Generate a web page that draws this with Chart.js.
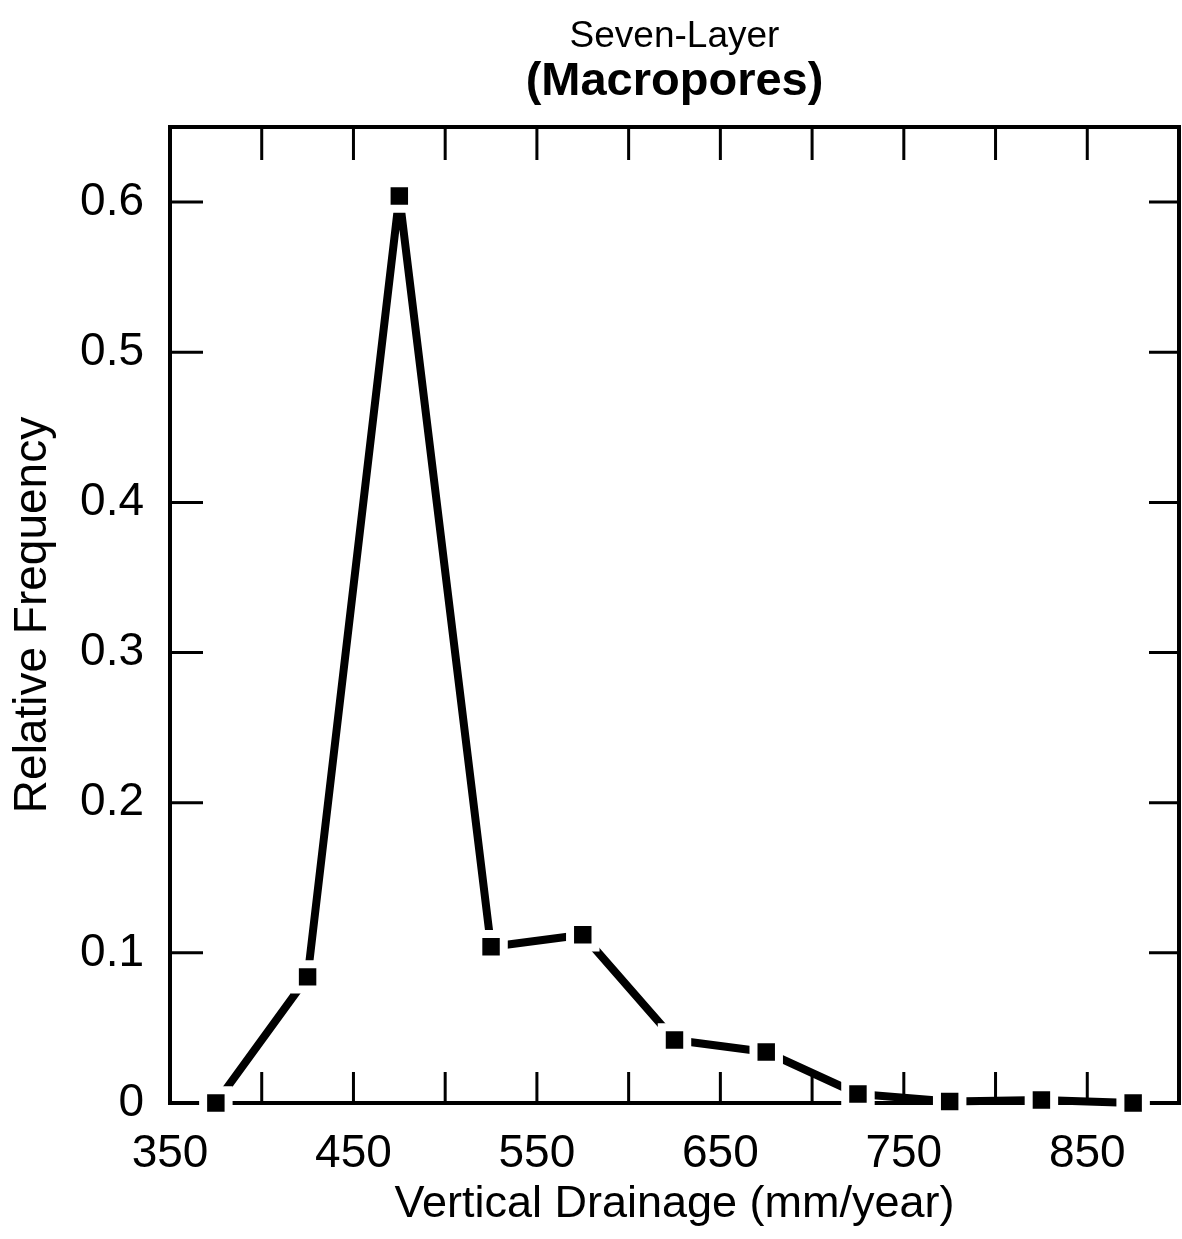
<!DOCTYPE html>
<html>
<head>
<meta charset="utf-8">
<script src="https://cdn.jsdelivr.net/npm/chart.js@4/dist/chart.umd.min.js"></script>
<style>
  html, body { margin: 0; padding: 0; background: #fff; }
  #wrap { width: 1182px; height: 1239px; position: relative; }
</style>
</head>
<body>
<div id="wrap"><canvas id="c"></canvas></div>
<script>
// ---- data ----
const drainage = [375, 425, 475, 525, 575, 625, 675, 725, 775, 825, 875];
const frequency = [0.000, 0.084, 0.604, 0.104, 0.112, 0.042, 0.034, 0.006, 0.001, 0.002, 0.000];
const xLabelValues = [350, 450, 550, 650, 750, 850];
const titleText = 'Seven-Layer';
const subtitleText = '(Macropores)';
const xTitle = 'Vertical Drainage (mm/year)';
const yTitle = 'Relative Frequency';

const FONT = "'Liberation Sans', Arial, Helvetica, sans-serif";

const points = drainage.map((x, i) => ({ x: x, y: frequency[i] }));

// frame + inward tick marks, drawn before the dataset so markers sit on top
const framePlugin = {
  id: 'frame',
  beforeDatasetsDraw(chart) {
    const { ctx, chartArea: a, scales } = chart;
    ctx.save();
    ctx.strokeStyle = '#000';
    ctx.lineCap = 'butt';
    ctx.lineWidth = 4;
    ctx.strokeRect(a.left, a.top, a.right - a.left, a.bottom - a.top);
    ctx.lineWidth = 3;
    const xs = scales.x, ys = scales.y;
    xs.ticks.forEach(t => {
      if (t.value <= xs.min || t.value >= xs.max) return;
      const px = xs.getPixelForValue(t.value);
      ctx.beginPath();
      ctx.moveTo(px, a.top); ctx.lineTo(px, a.top + 33);
      ctx.moveTo(px, a.bottom); ctx.lineTo(px, a.bottom - 31);
      ctx.stroke();
    });
    ys.ticks.forEach(t => {
      if (t.value <= ys.min || t.value >= ys.max) return;
      const py = ys.getPixelForValue(t.value);
      ctx.beginPath();
      ctx.moveTo(a.left, py); ctx.lineTo(a.left + 33, py);
      ctx.moveTo(a.right, py); ctx.lineTo(a.right - 30, py);
      ctx.stroke();
    });
    ctx.restore();
  }
};

new Chart(document.getElementById('c'), {
  type: 'line',
  data: {
    datasets: [{
      data: points,
      borderColor: '#000',
      borderWidth: 8,
      borderJoinStyle: 'bevel',
      tension: 0,
      fill: false,
      clip: false,
      pointStyle: 'rect',
      pointRadius: 18,
      pointBackgroundColor: '#000',
      pointBorderColor: '#fff',
      pointBorderWidth: 8,
      pointHoverRadius: 18
    }]
  },
  options: {
    responsive: true,
    maintainAspectRatio: false,
    animation: false,
    devicePixelRatio: 1,
    layout: { autoPadding: false, padding: { left: 0, right: 3, top: 0, bottom: 0 } },
    plugins: {
      legend: { display: false },
      tooltip: { enabled: false },
      title: {
        display: true,
        text: titleText,
        fullSize: false,
        color: '#000',
        font: { family: FONT, size: 37, weight: 'normal', lineHeight: 1.0 },
        padding: { top: 18, bottom: 0 }
      },
      subtitle: {
        display: true,
        text: subtitleText,
        fullSize: false,
        color: '#000',
        font: { family: FONT, size: 47, weight: 'bold', lineHeight: 1.0 },
        padding: { top: 4, bottom: 21 }
      }
    },
    scales: {
      x: {
        type: 'linear',
        min: 350,
        max: 900,
        afterFit(scale) {
          scale.height = 136;
          scale.paddingLeft = 0;
          scale.paddingRight = 0;
        },
        border: { display: false },
        grid: { display: false, drawTicks: false },
        ticks: {
          stepSize: 50,
          autoSkip: false,
          maxRotation: 0,
          includeBounds: false,
          padding: 24,
          color: '#000',
          font: { family: FONT, size: 46 },
          callback: (v) => xLabelValues.includes(v) ? String(v) : ''
        },
        title: {
          display: true,
          text: xTitle,
          color: '#000',
          font: { family: FONT, size: 45, lineHeight: 1.2 },
          padding: { top: 0, bottom: 7 }
        }
      },
      y: {
        type: 'linear',
        min: 0,
        max: 0.65,
        afterFit(scale) { scale.width = 170; },
        border: { display: false },
        grid: { display: false, drawTicks: false },
        ticks: {
          stepSize: 0.1,
          includeBounds: false,
          padding: 26,
          color: '#000',
          font: { family: FONT, size: 46 },
          callback: (v) => v === 0 ? '0' : v.toFixed(1)
        },
        title: {
          display: true,
          text: yTitle,
          color: '#000',
          font: { family: FONT, size: 46, lineHeight: 1.2 },
          padding: { top: 6, bottom: 0 }
        }
      }
    }
  },
  plugins: [framePlugin]
});
</script>
</body>
</html>
